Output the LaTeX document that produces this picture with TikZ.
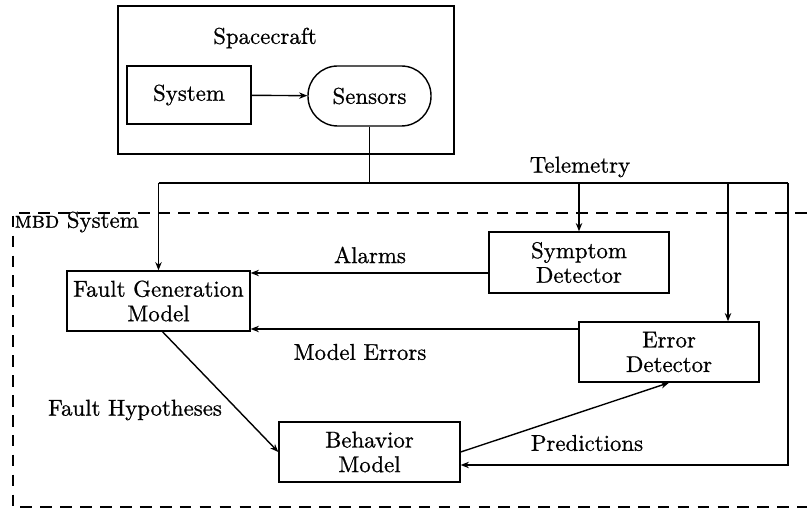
\documentclass[tikz,border=0pt]{standalone}
\usepackage{fontspec}
\setmainfont{lmroman10-regular.otf}[SmallCapsFont=lmromancaps10-regular.otf, FakeBold=0.8, AutoFakeBold=0.8]
\usetikzlibrary{arrows.meta}
\begin{document}
\begin{tikzpicture}[x=0.03cm,y=-0.03cm,
  font=\fontsize{19.5}{21}\selectfont\bfseries,
  line width=1.2pt,
  >={Stealth[length=7pt,width=5.5pt]},
  box/.style={draw, inner sep=0pt, align=center, minimum width=5.43cm, minimum height=1.8cm},
  lbl/.style={inner sep=0pt, align=center},
  mbd/.style={draw, dash pattern=on 10pt off 7pt}]
\useasboundingbox (0,0) rectangle (807,514);

% Spacecraft
\node[draw, minimum width=10.08cm, minimum height=4.44cm] (craft) at (286,80) {};
\node[lbl] (crafttitle) at (265,38) {Spacecraft};
\node[box, minimum width=3.72cm, minimum height=1.74cm] (system) at (189,95) {System};
\node[draw, inner sep=0pt, minimum width=3.69cm, minimum height=1.8cm, rounded corners=0.89cm] (sensors) at (369.5,96) {Sensors};
\draw[->] (system) -- (sensors);

% MBD system frame (open on the right)
\draw[mbd] (807,213) -- (13,213) -- (13,507) -- (807,507);
\node[lbl, anchor=west] (mbdlabel) at (14,222) {\textsc{mbd} System};

% Diagnosis blocks
\node[box, minimum width=5.49cm] (fgm) at (158.5,301) {Fault Generation\\Model};
\node[box, minimum width=5.4cm, minimum height=1.83cm] (symptom) at (579,262.5) {Symptom\\Detector};
\node[box, minimum width=5.4cm] (error) at (669,352) {Error\\Detector};
\node[box] (behavior) at (369.5,452) {Behavior\\Model};

% Telemetry bus
\coordinate (busS) at (369.5,183);
\coordinate (busL) at (158.5,183);
\coordinate (busM) at (579,183);
\coordinate (busE) at (728,183);
\coordinate (busR) at (788,183);
\coordinate (fbR) at (788,465);
\draw (sensors.south) -- (busS);
\draw (busL) -- (busR);
\draw[->] (busL) -- (fgm.north);
\draw[->] (busM) -- (symptom.north);
\draw[->] (busE) -- (busE |- error.north);
\draw[->] (busR) -- (fbR) -- (fbR -| behavior.east);
\node[lbl] (telemetry) at (580,167) {Telemetry};

% Alarms and model errors
\coordinate (alY) at (0,273);
\coordinate (meY) at (0,329);
\draw[->] (symptom.west |- alY) -- (fgm.east |- alY);
\node[lbl] (alarms) at (370,255) {Alarms};
\draw[->] (error.west |- meY) -- (fgm.east |- meY);
\node[lbl] (modelerrors) at (360,352) {Model Errors};

% Hypotheses and predictions
\draw[->] ([xshift=0.12cm]fgm.south) -- (behavior.west);
\node[lbl] (hyp) at (135,410) {Fault Hypotheses};
\draw[->] (behavior.east) -- (error.south);
\node[lbl] (pred) at (587,443) {Predictions};
\end{tikzpicture}
\end{document}
